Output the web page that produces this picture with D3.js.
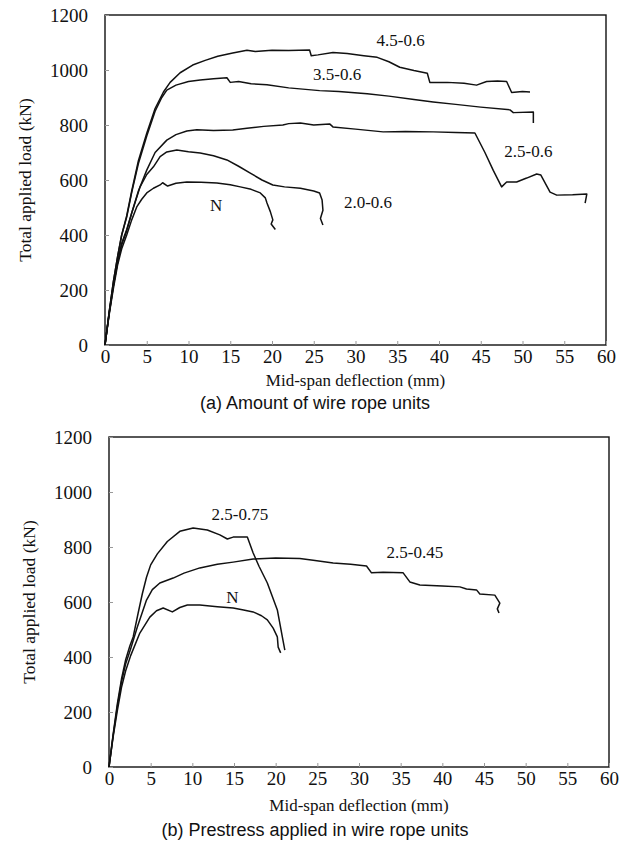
<!DOCTYPE html>
<html>
<head>
<meta charset="utf-8">
<script src="https://cdn.jsdelivr.net/npm/d3@7"></script>
<style>
  body { margin: 0; background: #fff; }
  svg { display: block; }
</style>
</head>
<body>
<svg></svg>
<script>
var width = 629,
    height = 843

// tick values
var xTicks = [0, 5, 10, 15, 20, 25, 30, 35, 40, 45, 50, 55, 60]
var yTicks = [0, 200, 400, 600, 800, 1000, 1200]

// (a) amount of wire rope units : [deflection mm, load kN]
var a45 = [[0,0],[0.5,120],[1,230],[1.5,320],[2,400],[2.6,470],[3.2,560],[4,670],[5,770],[6,860],[7,920],[7.8,955],[9,990],[10.5,1018],[12,1035],[13.5,1050],[15.3,1062],[17,1072],[18,1067],[20,1072],[22,1071],[24.5,1073],[24.7,1052],[25.5,1055],[27.3,1064],[29,1060],[31,1052],[32.6,1046],[34,1030],[35.3,1010],[37,998],[38.6,988],[38.9,955],[41,955],[43,952],[44.5,945],[45.7,958],[47,960],[48.1,958],[48.7,918],[50,922],[50.9,920]]
var a35 = [[0,0],[0.5,120],[1,230],[1.5,320],[2,400],[2.6,465],[3.2,555],[4,660],[5,760],[6,850],[6.8,900],[7.4,927],[8.5,945],[10,958],[11.4,964],[13,968],[14.6,972],[15,955],[16,958],[17.5,950],[19.4,946],[22,935],[25.7,925],[28,922],[31.4,914],[34,905],[37,893],[39.3,884],[42,875],[45,865],[48.5,855],[48.9,845],[51.3,847],[51.3,807]]
var a25 = [[0,0],[0.5,115],[1,215],[1.5,300],[2,370],[2.6,420],[3.2,480],[4,560],[5,636],[6,700],[7.4,745],[8.5,765],[9.8,778],[11,783],[13,780],[15.3,782],[17,788],[19,795],[21.3,800],[22,805],[23.4,807],[25,800],[26.9,804],[27.3,793],[30,785],[33.3,775],[36,776],[39.3,775],[42,773],[44.3,771],[45.5,700],[46.5,635],[47.5,575],[48.1,593],[49.3,593],[50.5,607],[51.7,622],[52.2,618],[53.3,556],[54.1,545],[56,546],[57.7,549],[57.5,516]]
var a20 = [[0,0],[0.5,115],[1,215],[1.5,300],[2,365],[2.6,415],[3.2,480],[4.2,575],[5,620],[5.8,648],[6.6,685],[7.4,702],[8.6,709],[10,703],[11.4,698],[13,688],[14.6,673],[16,650],[17.4,625],[18.8,600],[20.1,582],[21.5,575],[23.4,570],[25,560],[25.7,553],[26,527],[26.1,490],[25.8,460],[26.1,436]]
var aN = [[0,0],[0.5,110],[1,205],[1.5,290],[2,350],[2.6,400],[3.2,455],[3.8,502],[4.4,530],[5,553],[5.8,570],[6.6,582],[6.9,590],[7.5,578],[8.5,588],[9.8,593],[11.5,592],[13.4,589],[15,583],[16.2,575],[17.5,566],[18.6,553],[19.2,535],[19.4,516],[19.8,485],[20,465],[20.1,455],[19.9,440],[20.4,420]]

// (b) prestress applied in wire rope units
var b75 = [[0,0],[0.5,120],[1,230],[1.5,320],[2,390],[2.5,440],[2.9,473],[3.5,560],[4,630],[4.5,690],[5,735],[5.8,775],[7,820],[8.5,857],[10.1,869],[11.8,862],[13.3,844],[14.2,829],[14.9,836],[16.6,836],[17.3,778],[18,730],[19,669],[20.2,571],[20.8,473],[21.1,425]]
var b45 = [[0,0],[0.5,115],[1,220],[1.5,310],[2,375],[2.6,430],[3.4,509],[4.5,607],[5.2,645],[6.1,669],[7.7,687],[9,705],[10.9,724],[13,737],[14.9,745],[17.3,756],[20,760],[22.9,758],[24.5,752],[26.9,742],[29,737],[30.9,731],[31.5,706],[32.9,708],[35.3,706],[36.1,673],[37.3,662],[40,658],[42.1,655],[42.9,647],[44.1,644],[44.5,629],[46.3,625],[46.9,596],[46.6,575],[46.8,560]]
var bN = [[0,0],[0.5,110],[1,205],[1.5,290],[2,350],[2.6,405],[3.7,487],[4.9,545],[5.7,568],[6.5,578],[7.6,564],[8.5,580],[9.4,589],[10.9,589],[13,583],[14.9,578],[16,572],[17.3,564],[18.3,550],[19,535],[19.7,505],[20.2,473],[20.3,436],[20.6,415]]

// curve labels: text, deflection, load
var aLabels = [["4.5-0.6", 35.4, 1087], ["3.5-0.6", 27.8, 964], ["2.5-0.6", 50.7, 684], ["2.0-0.6", 31.5, 498], ["N", 13.3, 487]]
var bLabels = [["2.5-0.75", 15.7, 898], ["2.5-0.45", 36.7, 760], ["N", 14.8, 596]]

var svg = d3.select("svg").attr("width", width).attr("height", height)

var serif = "'Liberation Serif', 'Times New Roman', serif"

function panel(frame, series, labels, caption) {
  var x = d3.scaleLinear().domain([0, 60]).range([frame.left, frame.right])
  var y = d3.scaleLinear().domain([0, 1200]).range([frame.bottom, frame.top])
  var g = svg.append("g")

  // frame
  g.append("rect")
    .attr("x", frame.left).attr("y", frame.top)
    .attr("width", frame.right - frame.left).attr("height", frame.bottom - frame.top)
    .attr("fill", "none").attr("stroke", "#111").attr("stroke-width", 1.4)

  // inward ticks, faint like the scan
  var xa = d3.axisBottom(x).tickValues(xTicks).tickSize(-4).tickPadding(5).tickFormat(d3.format("d"))
  var ya = d3.axisLeft(y).tickValues(yTicks).tickSize(-4).tickPadding(17).tickFormat(d3.format("d"))

  var gx = g.append("g").attr("transform", "translate(0," + frame.bottom + ")").call(xa)
  var gy = g.append("g").attr("transform", "translate(" + frame.left + ",0)").call(ya)
  ;[gx, gy].forEach(function(a) {
    a.attr("font-family", serif).attr("font-size", 19)
    a.select(".domain").remove()
    a.selectAll("line").attr("stroke", "#999")
    a.selectAll("text").attr("fill", "#111")
  })

  var line = d3.line()
    .x(function(d) { return x(d[0]) })
    .y(function(d) { return y(d[1]) })

  g.selectAll("path.curve")
    .data(series)
    .enter().append("path")
    .attr("class", "curve")
    .attr("d", line)
    .attr("fill", "none")
    .attr("stroke", "#111")
    .attr("stroke-width", 1.5)
    .attr("stroke-linejoin", "round")

  g.selectAll("text.lab")
    .data(labels)
    .enter().append("text")
    .attr("class", "lab")
    .attr("x", function(d) { return x(d[1]) })
    .attr("y", function(d) { return y(d[2]) })
    .attr("text-anchor", "middle")
    .attr("fill", "#111")
    .attr("font-family", serif)
    .attr("font-size", 17)
    .text(function(d) { return d[0] })

  g.append("text")
    .attr("transform", "translate(" + (frame.left - 74) + "," + ((frame.top + frame.bottom) / 2) + ") rotate(-90)")
    .attr("text-anchor", "middle")
    .attr("fill", "#111")
    .attr("font-family", serif)
    .attr("font-size", 17.5)
    .text("Total applied load (kN)")

  g.append("text")
    .attr("x", (frame.left + frame.right) / 2)
    .attr("y", frame.bottom + frame.titleGap)
    .attr("text-anchor", "middle")
    .attr("fill", "#111")
    .attr("font-family", serif)
    .attr("font-size", 17)
    .text("Mid-span deflection (mm)")

  g.append("text")
    .attr("x", 315)
    .attr("y", frame.bottom + frame.captionGap)
    .attr("text-anchor", "middle")
    .attr("fill", "#111")
    .attr("font-family", "'Liberation Sans', Arial, sans-serif")
    .attr("font-size", 18)
    .text(caption)
}

panel({left: 105, right: 606, top: 15, bottom: 345, titleGap: 41, captionGap: 64}, [a45, a35, a25, a20, aN], aLabels, "(a) Amount of wire rope units")
panel({left: 109, right: 609, top: 437, bottom: 767, titleGap: 44, captionGap: 69}, [b75, b45, bN], bLabels, "(b) Prestress applied in wire rope units")
</script>
</body>
</html>
